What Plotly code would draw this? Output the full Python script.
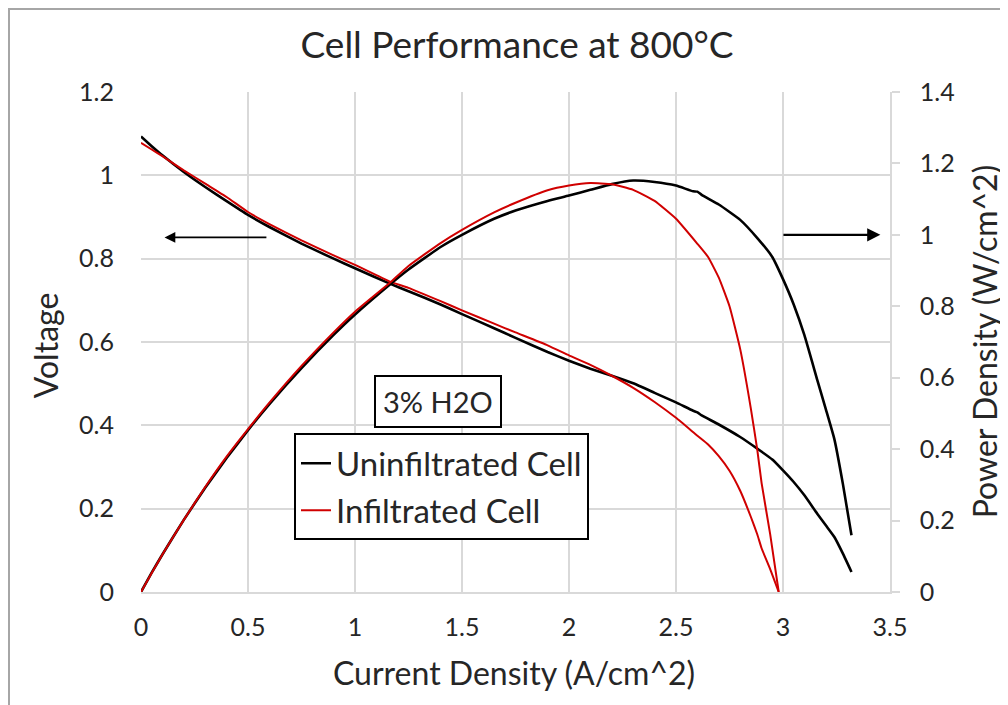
import plotly.graph_objects as go

# ---- data ----
i_unf = [0, 0.05, 0.1, 0.2, 0.3, 0.4, 0.5, 0.6, 0.75, 0.9, 1.0, 1.163, 1.25, 1.4, 1.5, 1.65, 1.75, 1.9,
         2.0, 2.1, 2.2, 2.3, 2.4, 2.5, 2.58, 2.6, 2.62, 2.7, 2.8, 2.88, 2.95, 3.0, 3.05, 3.1, 3.16,
         3.2, 3.24, 3.28, 3.32]
v_unf = [1.093, 1.070, 1.048, 1.008, 0.972, 0.938, 0.905, 0.876, 0.836, 0.800, 0.777, 0.740, 0.722,
         0.690, 0.667, 0.633, 0.610, 0.576, 0.555, 0.536, 0.519, 0.501, 0.478, 0.455, 0.435, 0.431,
         0.424, 0.402, 0.372, 0.344, 0.318, 0.292, 0.264, 0.232, 0.188, 0.160, 0.132, 0.092, 0.048]
p_unf = [0, 0.054, 0.105, 0.202, 0.292, 0.375, 0.453, 0.526, 0.627, 0.720, 0.777, 0.861, 0.903,
         0.966, 1.000, 1.045, 1.068, 1.095, 1.110, 1.126, 1.142, 1.152, 1.148, 1.138, 1.122, 1.121,
         1.112, 1.085, 1.042, 0.991, 0.938, 0.876, 0.805, 0.719, 0.594, 0.512, 0.428, 0.302, 0.159]

i_inf = [0, 0.05, 0.1, 0.2, 0.3, 0.4, 0.5, 0.6, 0.75, 0.9, 1.0, 1.163, 1.25, 1.4, 1.5, 1.65, 1.75, 1.9,
         2.0, 2.1, 2.2, 2.3, 2.4, 2.5, 2.6, 2.65, 2.7, 2.75, 2.8, 2.85, 2.88, 2.9, 2.94, 2.98]
v_inf = [1.078, 1.062, 1.046, 1.012, 0.980, 0.948, 0.912, 0.883, 0.844, 0.808, 0.785, 0.745, 0.730,
         0.698, 0.676, 0.644, 0.623, 0.592, 0.568, 0.545, 0.519, 0.490, 0.456, 0.418, 0.375, 0.354,
         0.326, 0.291, 0.243, 0.180, 0.138, 0.105, 0.055, 0.0]
p_inf = [0, 0.053, 0.105, 0.202, 0.294, 0.379, 0.456, 0.530, 0.633, 0.727, 0.785, 0.866, 0.913,
         0.977, 1.014, 1.063, 1.090, 1.125, 1.138, 1.145, 1.142, 1.126, 1.095, 1.045, 0.975, 0.938,
         0.880, 0.800, 0.680, 0.513, 0.397, 0.305, 0.162, 0.0]

x_ticks = [0, 0.5, 1, 1.5, 2, 2.5, 3, 3.5]
v_ticks = [0, 0.2, 0.4, 0.6, 0.8, 1.0, 1.2]
p_ticks = [0, 0.2, 0.4, 0.6, 0.8, 1.0, 1.2, 1.4]

FONT = "Lato"
TXT = "#262626"
GRID = "#d9d9d9"
RED = "#d00000"

# figure is placed at (8, 8) by the page margin
W, H = 1000, 697
L, T = 133, 84
PW, PH = 749, 500
R, B = W - L - PW, H - T - PH

line_b = dict(color="#000000", width=2.6, shape="spline", smoothing=0.4)
line_r = dict(color=RED, width=2, shape="spline", smoothing=0.4)

fig = go.Figure()
fig.add_trace(go.Scatter(x=i_unf, y=v_unf, mode="lines", name="Uninfiltrated Cell",
                         line=line_b, legendgroup="a", showlegend=True))
fig.add_trace(go.Scatter(x=i_unf, y=p_unf, mode="lines", name="Uninfiltrated Cell", yaxis="y2",
                         line=line_b, legendgroup="a", showlegend=False))
fig.add_trace(go.Scatter(x=i_inf, y=v_inf, mode="lines", name="Infiltrated Cell",
                         line=line_r, legendgroup="b", showlegend=True))
fig.add_trace(go.Scatter(x=i_inf, y=p_inf, mode="lines", name="Infiltrated Cell", yaxis="y2",
                         line=line_r, legendgroup="b", showlegend=False))

fig.update_layout(
    width=W, height=H,
    margin=dict(l=L, r=R, t=T, b=B, autoexpand=False),
    paper_bgcolor="white", plot_bgcolor="white",
    font=dict(family=FONT, color=TXT, size=25),
    title=dict(text="Cell Performance at 800°C", x=(517 - 8) / W, xanchor="center",
               y=1 - 37 / H, yanchor="middle", font=dict(size=37, color=TXT)),
    xaxis=dict(range=[0, 3.5], tickvals=x_ticks, showgrid=True, gridcolor=GRID, gridwidth=1.5,
               showline=True, linecolor=GRID, linewidth=1.5, ticks="", zeroline=False,
               tickfont=dict(size=25, color=TXT), ticklabelstandoff=12),
    yaxis=dict(range=[0, 1.2], tickvals=v_ticks, showgrid=True, gridcolor=GRID, gridwidth=1.5,
               showline=False, ticks="", zeroline=False,
               tickfont=dict(size=25, color=TXT), ticklabelstandoff=26),
    yaxis2=dict(range=[0, 1.4], tickvals=p_ticks, overlaying="y", side="right", showgrid=False,
                showline=True, linecolor=GRID, linewidth=1.5, ticks="outside", ticklen=8,
                tickcolor=GRID, tickwidth=1.5, zeroline=False,
                tickfont=dict(size=25, color=TXT), ticklabelstandoff=15),
    legend=dict(x=(294 - 141) / PW, y=(591.7 - 433) / PH, xanchor="left", yanchor="top",
                bgcolor="white", bordercolor="#000000", borderwidth=2,
                font=dict(size=33, color=TXT),
                itemwidth=30, traceorder="grouped", tracegroupgap=1),
    showlegend=True,
)

annotations = [
    dict(text="Current Density (A/cm^2)", xref="paper", yref="paper", x=(514 - 141) / PW,
         y=(591.7 - 672) / PH, xanchor="center", yanchor="middle", showarrow=False,
         font=dict(size=32, color=TXT)),
    dict(text="Voltage", xref="paper", yref="paper", x=(45 - 141) / PW, y=(591.7 - 345) / PH,
         xanchor="center", yanchor="middle", textangle=-90, showarrow=False,
         font=dict(size=32, color=TXT)),
    dict(text="Power Density (W/cm^2)", xref="paper", yref="paper", x=(984 - 141) / PW,
         y=(591.7 - 342) / PH, xanchor="center", yanchor="middle", textangle=-90,
         showarrow=False, font=dict(size=32, color=TXT)),
    dict(text="3% H2O", xref="paper", yref="paper", x=(438 - 141) / PW, y=(591.7 - 401) / PH,
         xanchor="center", yanchor="middle", showarrow=False, bordercolor="#000000",
         borderwidth=2, borderpad=7, bgcolor="white", font=dict(size=29, color=TXT)),
    dict(x=0.11, y=0.851, xref="x", yref="y", ax=0.593, ay=0.851, axref="x", ayref="y",
         text="", showarrow=True, arrowhead=2, arrowsize=1.2, arrowwidth=1.8, arrowcolor="#000000"),
    dict(x=3.455, y=1.0, xref="x", yref="y2", ax=2.995, ay=1.0, axref="x", ayref="y2",
         text="", showarrow=True, arrowhead=2, arrowsize=1.2, arrowwidth=2.2, arrowcolor="#000000"),
]
fig.update_layout(annotations=annotations)

# outer chart frame at the figure edge
fig.add_shape(type="rect", xref="paper", yref="paper",
              x0=(1 - L) / PW, x1=(W + 40 - L) / PW,
              y0=-(B + 40) / PH, y1=1 + (T - 1) / PH,
              line=dict(color="#a6a6a6", width=2), layer="below")

fig.write_html("out.html")
